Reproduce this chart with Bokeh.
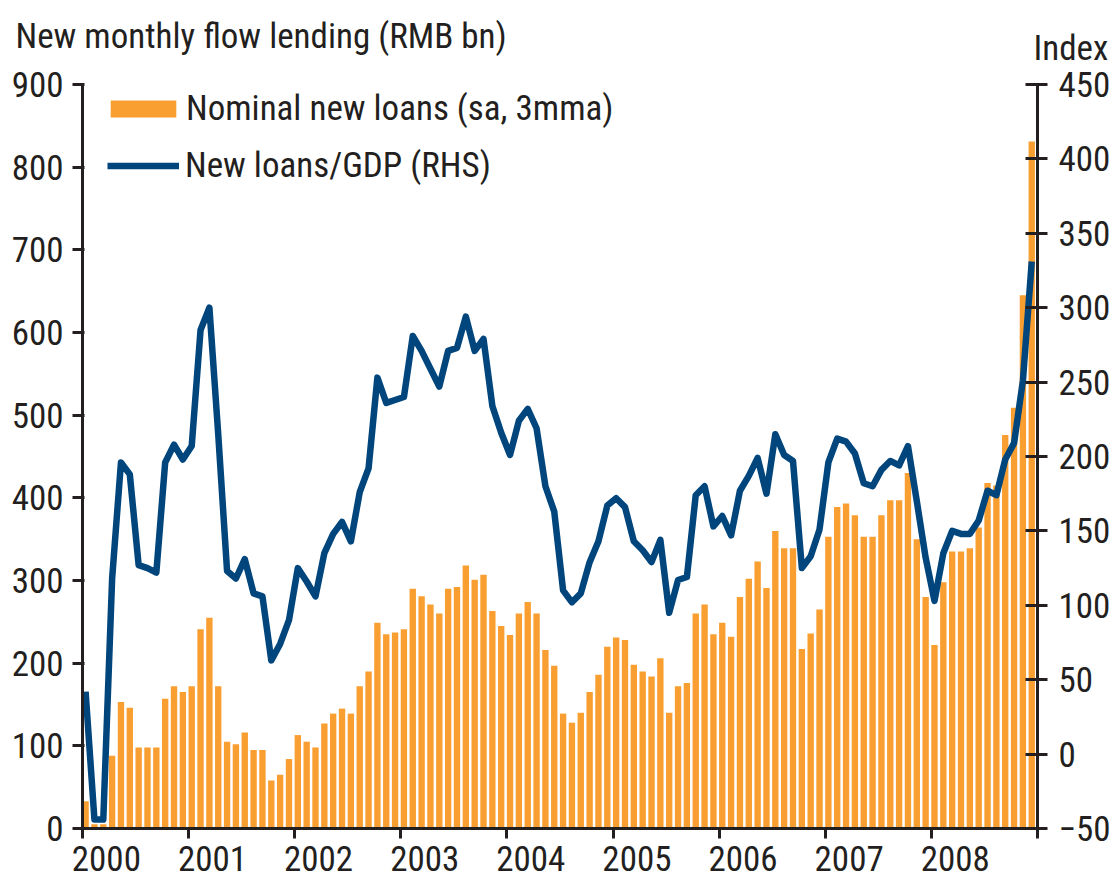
import pandas as pd
from bokeh.plotting import figure
from bokeh.models import (Range1d, LinearAxis, FixedTicker, CustomJSTickFormatter,
                          Legend, LegendItem, Title)
from bokeh.embed import file_html
from bokeh.resources import INLINE

# ---------------- data ----------------
months = pd.date_range("2000-01-01", periods=108, freq="MS")

nominal_new_loans = [
    33, 5, 5, 88, 153, 146, 98, 98, 98, 157, 172, 165,          # 2000
    172, 241, 255, 172, 105, 102, 116, 95, 95, 58, 65, 84,      # 2001
    113, 105, 98, 127, 139, 145, 139, 172, 190, 249, 235, 237,  # 2002
    241, 290, 281, 271, 260, 290, 292, 318, 301, 307, 263, 245, # 2003
    234, 260, 274, 260, 216, 197, 139, 128, 140, 165, 186, 220, # 2004
    231, 228, 198, 190, 184, 206, 140, 172, 176, 260, 271, 235, # 2005
    249, 232, 280, 302, 323, 291, 360, 339, 339, 217, 236, 265, # 2006
    353, 389, 393, 379, 353, 353, 379, 397, 397, 430, 350, 280, # 2007
    222, 298, 335, 335, 339, 364, 418, 415, 476, 509, 645, 831, # 2008
]

loans_to_gdp = [
    42, -44, -44, 118, 196, 188, 127, 125, 122, 196, 208, 198,  # 2000
    207, 285, 300, 215, 123, 118, 131, 108, 106, 63, 74, 90,    # 2001
    125, 116, 106, 135, 148, 156, 143, 176, 192, 253, 236, 238, # 2002
    240, 281, 271, 259, 247, 271, 273, 294, 271, 279, 234, 216, # 2003
    201, 224, 232, 219, 180, 163, 110, 102, 108, 129, 143, 167, # 2004
    172, 166, 143, 137, 129, 144, 95, 117, 119, 174, 180, 153,  # 2005
    160, 147, 177, 187, 199, 175, 215, 201, 197, 125, 133, 151, # 2006
    196, 212, 210, 202, 182, 180, 191, 197, 194, 207, 170, 132, # 2007
    103, 135, 150, 148, 148, 157, 177, 174, 198, 209, 251, 331, # 2008
]

year_labels = [2000, 2001, 2002, 2003, 2004, 2005, 2006, 2007, 2008]
left_ticks = [0, 100, 200, 300, 400, 500, 600, 700, 800, 900]
right_ticks = [-50, 0, 50, 100, 150, 200, 250, 300, 350, 400, 450]

title_left = "New monthly flow lending (RMB bn)"
title_right = "Index"

# ---------------- styling ----------------
FONT = "Roboto Condensed"
FS = "35px"
INK = "#231f20"
ORANGE = "#f99f32"
NAVY = "#00457c"

x = [d.year + (d.month - 1 + 0.35) / 12.0 for d in months]

p = figure(width=1117, height=881, output_backend="svg", toolbar_location=None,
           x_range=Range1d(2000, 2009), y_range=Range1d(0, 900),
           min_border_left=82, min_border_right=80, min_border_top=84,
           min_border_bottom=53, x_axis_location=None, y_axis_location=None)
p.outline_line_color = None
p.xgrid.visible = False
p.ygrid.visible = False

p.extra_y_ranges = {"rhs": Range1d(-50, 450)}

bars = p.vbar(x=x, top=nominal_new_loans, bottom=0, width=0.72 / 12.0,
              fill_color=ORANGE, line_color=None)
line = p.line(x=x, y=loans_to_gdp, y_range_name="rhs", line_color=NAVY,
              line_width=6.5, line_join="round")

def style_axis(ax):
    ax.axis_line_color = INK
    ax.axis_line_width = 3
    ax.major_tick_line_color = INK
    ax.major_tick_line_width = 3
    ax.minor_tick_line_color = None
    ax.major_label_text_font = FONT
    ax.major_label_text_font_size = FS
    ax.major_label_text_color = INK

yl = LinearAxis(ticker=FixedTicker(ticks=left_ticks))
style_axis(yl)
yl.major_tick_out = 10
yl.major_tick_in = 2
yl.major_label_standoff = 9
p.add_layout(yl, "left")

yr = LinearAxis(y_range_name="rhs", ticker=FixedTicker(ticks=right_ticks))
style_axis(yr)
yr.major_tick_out = 10
yr.major_tick_in = 12
yr.major_label_standoff = 11
p.add_layout(yr, "right")

label_pos = [yv + 0.225 for yv in year_labels]
year_marks = year_labels + [year_labels[-1] + 1]
xb = LinearAxis(ticker=FixedTicker(ticks=label_pos, minor_ticks=year_marks),
                formatter=CustomJSTickFormatter(code="return Math.floor(tick).toString()"))
style_axis(xb)
xb.major_tick_out = 0
xb.major_tick_in = 0
xb.minor_tick_line_color = INK
xb.minor_tick_line_width = 3
xb.minor_tick_out = 10
xb.minor_tick_in = 0
xb.major_label_standoff = 7
p.add_layout(xb, "below")

leg1 = Legend(items=[LegendItem(label="Nominal new loans (sa, 3mma)", renderers=[bars])],
              location=(20, 698), glyph_width=82, glyph_height=21, label_standoff=2,
              label_height=44, padding=0, margin=0, spacing=0,
              background_fill_alpha=0, border_line_color=None,
              label_text_font=FONT, label_text_font_size=FS, label_text_color=INK)
leg2 = Legend(items=[LegendItem(label="New loans/GDP (RHS)", renderers=[line])],
              location=(25, 641), glyph_width=72, glyph_height=21, label_standoff=6,
              label_height=44, padding=0, margin=0, spacing=0,
              background_fill_alpha=0, border_line_color=None,
              label_text_font=FONT, label_text_font_size=FS, label_text_color=INK)
p.add_layout(leg1)
p.add_layout(leg2)

# one two-line title: left unit label, and the right-hand "Index" a little lower,
# pushed right with fixed-width (em) spaces
pad = "\u2003" * 33 + "\u2006"
p.add_layout(Title(text=title_left + "\n" + pad + title_right, align="left", offset=-67,
                   vertical_align="top", standoff=28, text_line_height=0.295,
                   text_font=FONT, text_font_size=FS, text_color=INK,
                   text_font_style="normal"), "above")

open("out.html", "w").write(file_html(p, INLINE))
